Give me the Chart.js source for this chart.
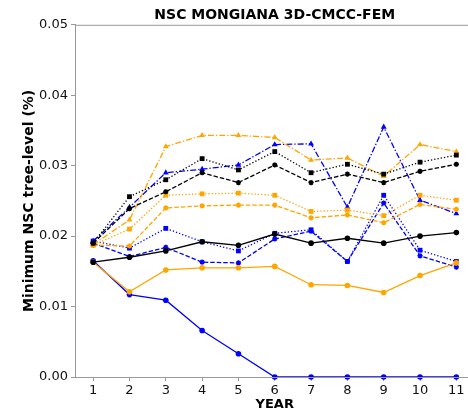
<!DOCTYPE html>
<html>
<head>
<meta charset="utf-8">
<script src="https://cdn.jsdelivr.net/npm/chart.js@4"></script>
<style>
  html, body { margin: 0; padding: 0; overflow: hidden; background: #fff; }
</style>
</head>
<body>
<canvas id="nscChart" width="480" height="414"></canvas>
<script>
var years = [1, 2, 3, 4, 5, 6, 7, 8, 9, 10, 11];
var yTicks = [0, 0.01, 0.02, 0.03, 0.04, 0.05];

var blackSolid   = [0.0163, 0.0170, 0.0179, 0.0192, 0.0187, 0.0203, 0.0190, 0.0197, 0.0190, 0.0200, 0.0205];
var blackDashed  = [0.0190, 0.0239, 0.0263, 0.0290, 0.0276, 0.0301, 0.0276, 0.0288, 0.0276, 0.0292, 0.0302];
var blackDotted  = [0.0190, 0.0256, 0.0280, 0.0310, 0.0294, 0.0320, 0.0290, 0.0302, 0.0288, 0.0305, 0.0315];
var orangeSolid   = [0.0163, 0.0121, 0.0152, 0.0155, 0.0155, 0.0157, 0.0131, 0.0130, 0.0120, 0.0144, 0.0162];
var orangeDashed  = [0.0187, 0.0186, 0.0240, 0.0243, 0.0244, 0.0244, 0.0226, 0.0230, 0.0219, 0.0245, 0.0238];
var orangeDotted  = [0.0187, 0.0210, 0.0258, 0.0260, 0.0261, 0.0258, 0.0235, 0.0237, 0.0229, 0.0258, 0.0251];
var orangeDashDot = [0.0188, 0.0223, 0.0327, 0.0343, 0.0343, 0.0340, 0.0308, 0.0311, 0.0285, 0.0330, 0.0320];
var blueSolid   = [0.0165, 0.0117, 0.0109, 0.0066, 0.0033, 0, 0, 0, 0, 0, 0];
var blueDashed  = [0.0190, 0.0171, 0.0184, 0.0163, 0.0162, 0.0196, 0.0207, 0.0164, 0.0247, 0.0172, 0.0156];
var blueDotted  = [0.0193, 0.0183, 0.0211, 0.0192, 0.0179, 0.0204, 0.0209, 0.0164, 0.0258, 0.0180, 0.0164];
var blueDashDot = [0.0193, 0.0241, 0.0290, 0.0295, 0.0301, 0.0330, 0.0331, 0.0241, 0.0355, 0.0251, 0.0232];

var ORANGE = "#ffa500";
var BLUE = "#0000ff";
var BLACK = "#000000";

var styles = {
  solid:   { dash: [],              marker: "circle",   r: 2.8 },
  dashed:  { dash: [4.5, 2],        marker: "star",     r: 2.6 },
  dotted:  { dash: [1.3, 2],        marker: "rect",     r: 3.4 },
  dashdot: { dash: [6, 2, 1.3, 2],  marker: "triangle", r: 3.4 }
};

function series(values, color, kind) {
  var s = styles[kind];
  return {
    data: values.map(function (v, i) { return { x: years[i], y: v }; }),
    borderColor: color,
    backgroundColor: color,
    pointBorderColor: color,
    pointBackgroundColor: color,
    borderWidth: 1.3,
    borderDash: s.dash,
    pointStyle: s.marker,
    pointRadius: s.r,
    pointBorderWidth: kind === "dashed" ? 1.5 : 0,
    tension: 0,
    clip: false
  };
}

// box round the plot, and title centred over the plot area like matplotlib
var frame = {
  id: "frame",
  afterLayout: function (chart) {
    chart.titleBlock.left = chart.chartArea.left;
    chart.titleBlock.right = chart.chartArea.right;
  },
  afterDraw: function (chart) {
    var a = chart.chartArea, c = chart.ctx;
    c.save();
    c.strokeStyle = "#999";
    c.lineWidth = 1;
    c.strokeRect(a.left + 0.5, a.top + 0.5, a.right - a.left, a.bottom - a.top);
    c.restore();
  }
};

var ctx = document.getElementById("nscChart").getContext("2d");
new Chart(ctx, {
  type: "line",
  data: {
    datasets: [
      series(blackSolid, BLACK, "solid"),
      series(blackDashed, BLACK, "dashed"),
      series(blackDotted, BLACK, "dotted"),
      series(orangeSolid, ORANGE, "solid"),
      series(orangeDashed, ORANGE, "dashed"),
      series(orangeDotted, ORANGE, "dotted"),
      series(orangeDashDot, ORANGE, "dashdot"),
      series(blueSolid, BLUE, "solid"),
      series(blueDashed, BLUE, "dashed"),
      series(blueDotted, BLUE, "dotted"),
      series(blueDashDot, BLUE, "dashdot")
    ]
  },
  options: {
    responsive: false,
    animation: false,
    layout: { padding: { top: 0, right: 5, bottom: 0, left: 0 } },
    plugins: {
      legend: { display: false },
      tooltip: { enabled: false },
      title: {
        display: true,
        text: "NSC MONGIANA 3D-CMCC-FEM",
        color: "#000",
        font: { family: "DejaVu Sans", size: 14, weight: "bold" },
        padding: { top: 7, bottom: 1 }
      }
    },
    scales: {
      x: {
        type: "linear",
        min: 0.5,
        max: 11.5,
        afterBuildTicks: function (scale) {
          scale.ticks = years.map(function (v) { return { value: v }; });
        },
        afterFit: function (scale) { scale.height = 37; },
        grid: { display: true, drawOnChartArea: false, drawTicks: true, tickLength: 4, color: "#999" },
        border: { display: true, color: "#999" },
        ticks: {
          color: "#111",
          padding: 2,
          maxRotation: 0,
          font: { family: "DejaVu Sans", size: 13 },
          callback: function (v) { return String(v); }
        },
        title: {
          display: true,
          text: "YEAR",
          color: "#000",
          padding: { top: 0, bottom: 2 },
          font: { family: "DejaVu Sans", size: 13, weight: "bold" }
        }
      },
      y: {
        min: 0,
        max: 0.05,
        afterBuildTicks: function (scale) {
          scale.ticks = yTicks.map(function (v) { return { value: v }; });
        },
        afterFit: function (scale) { scale.width = 75; },
        grid: { display: true, drawOnChartArea: false, drawTicks: true, tickLength: 4, color: "#999" },
        border: { display: true, color: "#999" },
        ticks: {
          color: "#111",
          padding: 3,
          font: { family: "DejaVu Sans", size: 13 },
          callback: function (v) { return Number(v).toFixed(2); }
        },
        title: {
          display: true,
          text: "Minimum NSC tree-level (%)",
          color: "#000",
          padding: { top: 21, bottom: 0 },
          font: { family: "DejaVu Sans", size: 14, weight: "bold" }
        }
      }
    }
  },
  plugins: [frame]
});
</script>
</body>
</html>
